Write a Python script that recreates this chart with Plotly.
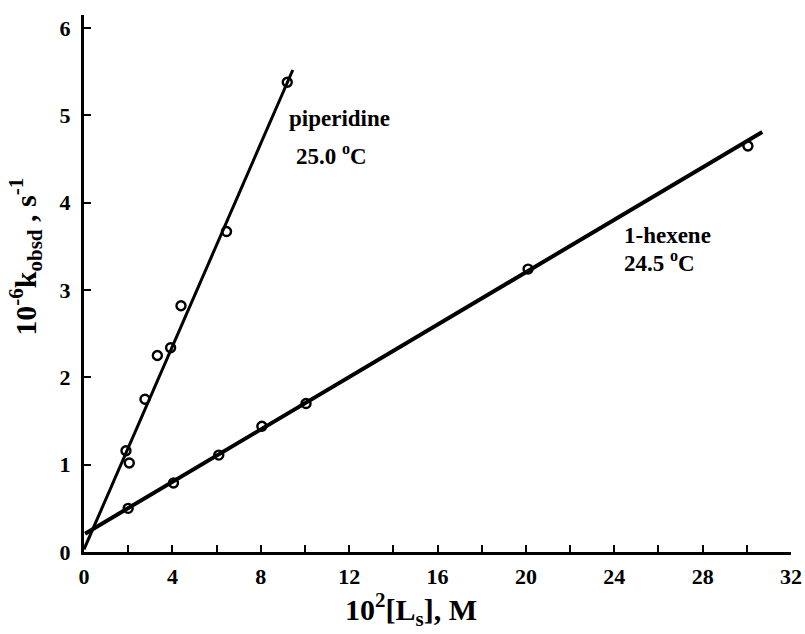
import plotly.graph_objects as go

# Data
pip_x = [1.9, 2.05, 2.76, 3.32, 3.92, 4.39, 6.45, 9.2]
pip_y = [1.16, 1.02, 1.75, 2.25, 2.34, 2.82, 3.67, 5.38]
hex_x = [2.0, 4.05, 6.1, 8.05, 10.05, 20.1, 30.05]
hex_y = [0.50, 0.79, 1.11, 1.44, 1.70, 3.24, 4.65]

# fitted lines (endpoints)
pip_fit_x = [0.0, 9.45]
pip_fit_y = [0.03, 5.52]
hex_fit_x = [0.05, 30.7]
hex_fit_y = [0.21, 4.81]

x_tickvals = [0, 4, 8, 12, 16, 20, 24, 28, 32]
x_ticktext = ["0", "4", "8", "12", "16", "20", "24", "28", "32"]
y_tickvals = [0, 1, 2, 3, 4, 5, 6]
y_ticktext = ["0", "1", "2", "3", "4", "5", "6"]

FONT = "Liberation Serif"

fig = go.Figure()
fig.add_trace(go.Scatter(x=pip_fit_x, y=pip_fit_y, mode="lines",
                         line=dict(color="black", width=3), cliponaxis=False,
                         showlegend=False, hoverinfo="skip"))
fig.add_trace(go.Scatter(x=hex_fit_x, y=hex_fit_y, mode="lines",
                         line=dict(color="black", width=4), cliponaxis=False,
                         showlegend=False, hoverinfo="skip"))
fig.add_trace(go.Scatter(x=pip_x, y=pip_y, mode="markers", cliponaxis=False,
                         marker=dict(symbol="circle-open", size=9, color="black",
                                     line=dict(width=2.4, color="black")),
                         showlegend=False))
fig.add_trace(go.Scatter(x=hex_x, y=hex_y, mode="markers", cliponaxis=False,
                         marker=dict(symbol="circle-open", size=9, color="black",
                                     line=dict(width=2.4, color="black")),
                         showlegend=False))

fig.update_layout(
    width=805, height=634,
    margin=dict(l=84, r=14, t=15, b=82),
    paper_bgcolor="white", plot_bgcolor="white",
    font=dict(family=FONT, color="black", size=18, weight="bold"),
    showlegend=False,
    xaxis=dict(range=[0, 32], showgrid=False, zeroline=False, automargin=False,
               showline=True, linecolor="black", linewidth=3,
               ticks="inside", ticklen=7, tickwidth=2, tickcolor="black",
               tickvals=x_tickvals, ticktext=x_ticktext,
               minor=dict(ticks="inside", dtick=2, tick0=0, ticklen=7, tickwidth=2,
                          tickcolor="black", showgrid=False),
               tickfont=dict(family=FONT, size=22, weight="bold"),
               ticklabelstandoff=3),
    yaxis=dict(range=[0, 6.15], showgrid=False, zeroline=False, automargin=False,
               showline=True, linecolor="black", linewidth=3,
               ticks="inside", ticklen=7, tickwidth=2, tickcolor="black",
               tickvals=y_tickvals, ticktext=y_ticktext,
               tickfont=dict(family=FONT, size=22, weight="bold"),
               ticklabelstandoff=6),
    annotations=[
        dict(text="10<sup>-6</sup>k<sub>obsd</sub> , s<sup>-1</sup>",
             xref="paper", yref="paper", x=-0.082, y=0.55,
             xanchor="center", yanchor="middle", textangle=-90, showarrow=False,
             font=dict(family=FONT, size=30, weight="bold")),
        dict(text="10<sup>2</sup>[L<sub>s</sub>], M",
             xref="paper", yref="paper", x=0.462, y=-0.107,
             xanchor="center", yanchor="middle", showarrow=False,
             font=dict(family=FONT, size=30, weight="bold")),
        dict(text="piperidine", x=9.2, y=4.97, xanchor="left", yanchor="middle",
             showarrow=False, font=dict(family=FONT, size=23, weight="bold")),
        dict(text="25.0 <sup>o</sup>C", x=9.5, y=4.55, xanchor="left", yanchor="middle",
             showarrow=False, font=dict(family=FONT, size=23, weight="bold")),
        dict(text="1-hexene", x=24.35, y=3.62, xanchor="left", yanchor="middle",
             showarrow=False, font=dict(family=FONT, size=23, weight="bold")),
        dict(text="24.5 <sup>o</sup>C", x=24.35, y=3.33, xanchor="left", yanchor="middle",
             showarrow=False, font=dict(family=FONT, size=23, weight="bold")),
    ],
)

fig.write_html("out.html", config={"displayModeBar": False},
               post_script="document.body.style.margin='0px';document.body.style.overflow='hidden';")
